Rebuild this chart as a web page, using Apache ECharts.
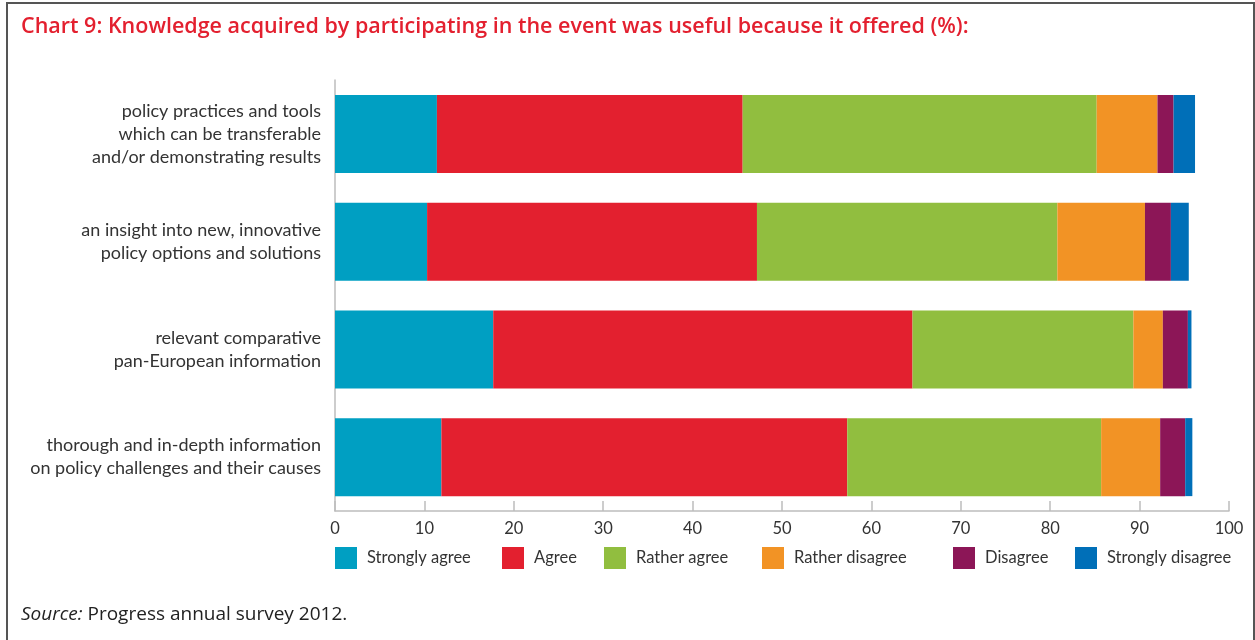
<!DOCTYPE html>
<html>
<head>
<meta charset="utf-8">
<script src="https://cdn.jsdelivr.net/npm/echarts@6/dist/echarts.min.js"></script>
<style>
  html, body { margin: 0; padding: 0; background: #fff; }
  #chart { width: 1255px; height: 640px; }
</style>
</head>
<body>
<div id="chart"></div>
<script>
// Survey topics (top to bottom)
const categories = [
  'policy practices and tools\nwhich can be transferable\nand/or demonstrating results',
  'an insight into new, innovative\npolicy options and solutions',
  'relevant comparative\npan-European information',
  'thorough and in-depth information\non policy challenges and their causes'
];

// Answer shares (%) per topic
const stronglyAgree    = [11.4, 10.3, 17.7, 11.9];
const agree            = [34.2, 36.9, 46.9, 45.4];
const ratherAgree      = [39.6, 33.6, 24.7, 28.4];
const ratherDisagree   = [6.8, 9.8, 3.3, 6.6];
const disagree         = [1.8, 2.9, 2.8, 2.8];
const stronglyDisagree = [2.4, 2.0, 0.4, 0.8];

const xTicks = [0, 10, 20, 30, 40, 50, 60, 70, 80, 90, 100];

const seriesDefs = [
  { name: 'Strongly agree',    data: stronglyAgree,    color: '#009FC2' },
  { name: 'Agree',             data: agree,            color: '#E3202F' },
  { name: 'Rather agree',      data: ratherAgree,      color: '#91BE3F' },
  { name: 'Rather disagree',   data: ratherDisagree,   color: '#F29325' },
  { name: 'Disagree',          data: disagree,         color: '#8C1657' },
  { name: 'Strongly disagree', data: stronglyDisagree, color: '#006FB8' }
];

// Left edge of each legend swatch
const legendLeft = [335, 502, 604, 762, 953, 1075];

const FONT = 'Lato, "Open Sans", sans-serif';
const WIDE = '"Open Sans", Lato, sans-serif';

const chart = echarts.init(document.getElementById('chart'));

chart.setOption({
  animation: false,
  textStyle: { fontFamily: FONT },
  title: [
    {
      text: 'Chart 9: Knowledge acquired by participating in the event was useful because it offered (%):',
      left: 16, top: 11,
      textStyle: { color: '#E3202F', fontSize: 21.5, fontWeight: 600, fontFamily: WIDE }
    },
    {
      text: '{i|Source:} Progress annual survey 2012.',
      left: 16, top: 600,
      textStyle: {
        color: '#222', fontSize: 19, fontWeight: 'normal', fontFamily: WIDE,
        rich: { i: { fontStyle: 'italic', fontSize: 19, color: '#222', fontFamily: WIDE } }
      }
    }
  ],
  legend: seriesDefs.map((s, i) => ({
    data: [s.name],
    left: legendLeft[i] - 5,
    top: 542,
    itemWidth: 22,
    itemHeight: 22,
    itemGap: 10,
    icon: 'rect',
    textStyle: { color: '#333', fontSize: 16.5, fontFamily: FONT, padding: [0, 0, 0, 5] }
  })),
  grid: { left: 335, right: 26, top: 80, bottom: 129, containLabel: false },
  xAxis: {
    type: 'value',
    min: 0, max: 100, interval: 10,
    axisLine: { show: true, lineStyle: { color: '#bdbdbd', width: 1.5 } },
    axisTick: { show: true, inside: true, length: 10, lineStyle: { color: '#bdbdbd', width: 1.5 } },
    splitLine: { show: false },
    axisLabel: {
      color: '#333', fontSize: 16.5, margin: 9, fontFamily: FONT,
      formatter: v => (xTicks.includes(v) ? String(v) : '')
    }
  },
  yAxis: {
    type: 'category',
    data: categories,
    inverse: true,
    axisLine: { show: true, lineStyle: { color: '#bdbdbd', width: 1.5 } },
    axisTick: { show: false },
    axisLabel: {
      color: '#333', fontSize: 18, lineHeight: 23, margin: 14, align: 'right', fontFamily: FONT
    }
  },
  series: seriesDefs.map(s => ({
    name: s.name,
    type: 'bar',
    stack: 'total',
    barWidth: 78,
    data: s.data,
    itemStyle: { color: s.color },
    emphasis: { disabled: true }
  })),
  graphic: [
    // frame around the chart
    { type: 'line', shape: { x1: 7, y1: 3, x2: 1254, y2: 3 }, style: { stroke: '#555', lineWidth: 2 } },
    { type: 'line', shape: { x1: 7, y1: 2, x2: 7, y2: 640 }, style: { stroke: '#555', lineWidth: 2 } },
    { type: 'line', shape: { x1: 1254, y1: 2, x2: 1254, y2: 640 }, style: { stroke: '#555', lineWidth: 2 } }
  ]
});
</script>
</body>
</html>
